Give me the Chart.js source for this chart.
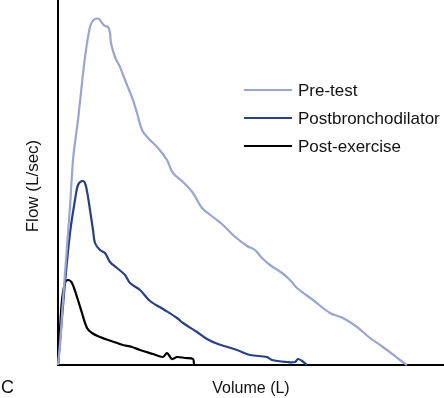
<!DOCTYPE html>
<html>
<head>
<meta charset="utf-8">
<script src="https://cdn.jsdelivr.net/npm/chart.js@4/dist/chart.umd.min.js"></script>
<style>
html,body{margin:0;padding:0;background:#fff;}
#wrap{width:444px;height:398px;}
</style>
</head>
<body>
<div id="wrap"><canvas id="c" width="444" height="398"></canvas></div>
<script>
// Series: volume (L) and flow (L/sec)
const seriesNames = ["Pre-test", "Postbronchodilator", "Post-exercise"];
const preVolume = [0,0.04,0.10,0.16,0.20,0.24,0.30,0.36,0.40,0.48,0.54,0.60,0.64,0.68,0.74,0.82,0.88,0.94,1.00,1.04,1.06,1.14,1.24,1.34,1.50,1.58,1.68,1.80,2.00,2.18,2.30,2.50,2.70,2.88,3.10,3.30,3.50,3.78,3.94,4.08,4.24,4.48,4.64,4.78,5.10,5.44,5.70,5.98,6.24,6.50,6.84,6.98];
const preFlow   = [0,0.8,2.6,4.2,5.28,6.32,8.2,9.2,9.8,11.28,12.32,13.12,13.52,13.72,13.84,13.84,13.68,13.56,13.52,13.28,12.88,12.32,11.92,11.4,10.6,10.08,9.4,9.08,8.68,8.2,7.68,7.32,6.88,6.28,5.92,5.6,5.2,4.76,4.6,4.28,4.0,3.68,3.4,3.08,2.6,2.08,1.88,1.52,1.08,0.72,0.2,0];
const postBdVolume = [0,0.06,0.14,0.24,0.34,0.40,0.48,0.54,0.60,0.64,0.70,0.74,0.84,0.94,1.04,1.18,1.34,1.44,1.64,1.84,2.10,2.38,2.50,2.78,2.98,3.20,3.58,3.84,4.18,4.28,4.58,4.74,4.80,4.88,4.98];
const postBdFlow   = [0,1.4,3.28,5.28,6.6,7.2,7.36,7.28,6.72,6.2,5.4,4.88,4.6,4.48,4.12,3.88,3.6,3.28,3.0,2.56,2.24,1.88,1.68,1.32,1.04,0.84,0.6,0.4,0.32,0.2,0.12,0.12,0.24,0.16,0];
const postExVolume = [0,0.04,0.08,0.14,0.20,0.28,0.38,0.48,0.58,0.68,0.84,1.00,1.18,1.30,1.48,1.64,1.90,2.10,2.18,2.28,2.38,2.54,2.70,2.72];
const postExFlow   = [0,1.4,2.6,3.28,3.4,3.28,2.72,2.08,1.48,1.28,1.12,1.0,0.88,0.8,0.72,0.6,0.44,0.32,0.48,0.24,0.32,0.28,0.24,0];
const xTitle = "Volume (L)";
const yTitle = "Flow (L/sec)";
const panelLabel = "C";

const colors = ["rgb(155,165,210)", "rgb(42,64,132)", "#000000"];
const FONT = '"Liberation Sans", Arial, Helvetica, sans-serif';

function pts(xs, ys){ return xs.map((v,i)=>({x:v, y:ys[i]})); }

const datasets = [
  {label: seriesNames[0], data: pts(preVolume, preFlow)},
  {label: seriesNames[1], data: pts(postBdVolume, postBdFlow)},
  {label: seriesNames[2], data: pts(postExVolume, postExFlow)}
].map((d,i)=>Object.assign(d,{
  borderColor: colors[i], backgroundColor: colors[i], borderWidth: 2.2,
  pointRadius: 0, tension: 0.35, fill: false, clip: false
}));

const decor = {
  id: 'decor',
  afterDraw(chart){
    const ctx = chart.ctx;
    ctx.save();
    // legend
    const rows = [90, 118, 146];
    chart.data.datasets.forEach((ds,i)=>{
      ctx.strokeStyle = ds.borderColor;
      ctx.lineWidth = 2;
      ctx.beginPath();
      ctx.moveTo(244, rows[i]);
      ctx.lineTo(292, rows[i]);
      ctx.stroke();
      ctx.fillStyle = '#111';
      ctx.font = '17px ' + FONT;
      ctx.textAlign = 'left';
      ctx.textBaseline = 'middle';
      ctx.fillText(ds.label, 298, rows[i] + 1);
    });
    // axis titles
    ctx.fillStyle = '#111';
    ctx.font = '16px ' + FONT;
    ctx.textAlign = 'center';
    ctx.textBaseline = 'middle';
    ctx.fillText(xTitle, 251, 389);
    ctx.save();
    ctx.translate(33, 186);
    ctx.rotate(-Math.PI/2);
    ctx.font = '17px ' + FONT;
    ctx.fillText(yTitle, 0, 0);
    ctx.restore();
    ctx.font = '18px ' + FONT;
    ctx.textAlign = 'left';
    ctx.textBaseline = 'alphabetic';
    ctx.fillText(panelLabel, 1, 393);
    ctx.restore();
  }
};

new Chart(document.getElementById('c'), {
  type: 'line',
  data: {datasets},
  options: {
    responsive: false,
    devicePixelRatio: 1,
    animation: false,
    layout: {padding: {left: 58, top: 0, right: 0, bottom: 33}},
    plugins: {legend: {display: false}, tooltip: {enabled: false}},
    scales: {
      x: {type: 'linear', min: 0, max: 7.72, ticks: {display: false},
          grid: {display: false, drawTicks: false}, border: {display: true, color: '#000', width: 2}},
      y: {type: 'linear', min: 0, max: 14.6, ticks: {display: false},
          grid: {display: false, drawTicks: false}, border: {display: true, color: '#000', width: 2}}
    }
  },
  plugins: [decor]
});
</script>
</body>
</html>
